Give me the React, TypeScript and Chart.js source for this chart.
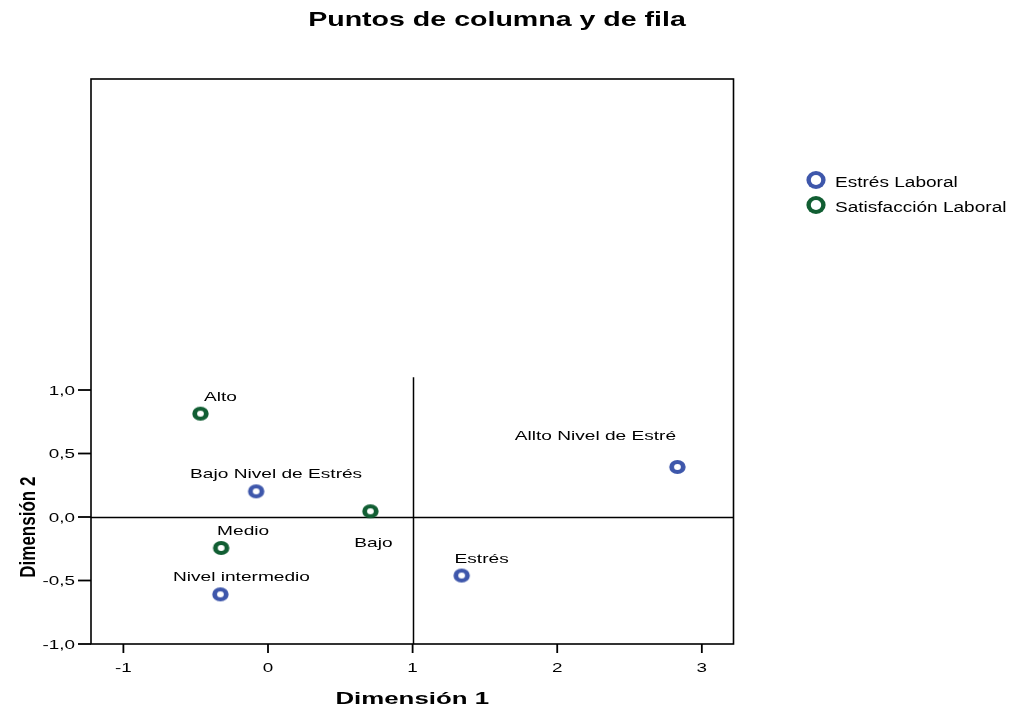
import { useEffect, useRef } from "react";
import { Chart, registerables } from "chart.js";

Chart.register(...registerables);

// ---------- data ----------
const chartTitle = "Puntos de columna y de fila";
const xTitle = "Dimensión 1";
const yTitle = "Dimensión 2";
const seriesNames = ["Estrés Laboral", "Satisfacción Laboral"];

const estresLabels = ["Bajo Nivel de Estrés", "Nivel intermedio", "Estrés", "Allto Nivel de Estré"];
const estresDim1 = [-0.082, -0.329, 1.339, 2.831];
const estresDim2 = [0.202, -0.609, -0.461, 0.394];

const satisLabels = ["Alto", "Medio", "Bajo"];
const satisDim1 = [-0.467, -0.324, 0.708];
const satisDim2 = [0.814, -0.244, 0.045];

const xTicks = [-1, 0, 1, 2, 3];
const yTicks = [-1, -0.5, 0, 0.5, 1];
const xRange = [-1.224, 3.219];
const yRange = [-1, 3.449];
const refX = 1;
const refXTop = 1.1;
const refY = 0;

// ---------- styles ----------
const BLUE = "#3e57ab";
const GREEN = "#115e33";
const estresLabelOffsets = [[20, -17], [21, -17], [20, -16], [-82, -31]];
const satisLabelOffsets = [[20, -16], [22, -17], [3, 32]];
const FONT = "'Liberation Sans', Arial, sans-serif";

function ring(color: string, rx: number, ry: number, irx: number, iry: number) {
  const c = document.createElement("canvas");
  c.width = Math.ceil(rx * 2) + 2;
  c.height = Math.ceil(ry * 2) + 2;
  const g = c.getContext("2d")!;
  g.fillStyle = color;
  g.beginPath();
  g.ellipse(c.width / 2, c.height / 2, rx, ry, 0, 0, Math.PI * 2);
  g.fill();
  g.fillStyle = "#ffffff";
  g.beginPath();
  g.ellipse(c.width / 2, c.height / 2, irx, iry, 0, 0, Math.PI * 2);
  g.fill();
  return c;
}

function sText(
  ctx: CanvasRenderingContext2D,
  text: string,
  x: number,
  y: number,
  font: string,
  sx: number,
  align: "left" | "center" | "right",
  baseline: CanvasTextBaseline,
  color = "#000"
) {
  ctx.save();
  ctx.font = font;
  ctx.fillStyle = color;
  ctx.textBaseline = baseline;
  ctx.textAlign = "left";
  const w = ctx.measureText(text).width * sx;
  const left = align === "center" ? x - w / 2 : align === "right" ? x - w : x;
  ctx.translate(left, y);
  ctx.scale(sx, 1);
  ctx.fillText(text, 0, 0);
  ctx.restore();
}

const fmt = (v: number) => v.toFixed(1).replace(".", ",");

export default function App() {
  const ref = useRef<HTMLCanvasElement | null>(null);

  useEffect(() => {
    document.body.style.margin = "0";
    const canvas = ref.current!;
    const blueRing = ring(BLUE, 8.2, 7, 3.4, 2.9);
    const greenRing = ring(GREEN, 8.2, 7, 3.4, 2.9);
    const blueLegend = ring(BLUE, 9.6, 9, 5.2, 4.9);
    const greenLegend = ring(GREEN, 9.6, 9, 5.2, 4.9);
    const labelSets = [
      { labels: estresLabels, offsets: estresLabelOffsets },
      { labels: satisLabels, offsets: satisLabelOffsets },
    ];

    const decor = {
      id: "decor",
      beforeDatasetsDraw(chart: any) {
        const ctx: CanvasRenderingContext2D = chart.ctx;
        const { left, right, top, bottom } = chart.chartArea;
        const xs = chart.scales.x;
        const ys = chart.scales.y;
        ctx.save();
        ctx.strokeStyle = "#000";
        // reference lines
        ctx.lineWidth = 1.5;
        const y0 = Math.round(ys.getPixelForValue(refY)) + 0.5;
        ctx.beginPath();
        ctx.moveTo(left, y0);
        ctx.lineTo(right, y0);
        ctx.stroke();
        const x1 = Math.round(xs.getPixelForValue(refX)) + 0.5;
        ctx.beginPath();
        ctx.moveTo(x1, ys.getPixelForValue(refXTop));
        ctx.lineTo(x1, bottom);
        ctx.stroke();
        // frame
        ctx.lineWidth = 1.6;
        ctx.strokeRect(left, top, right - left, bottom - top);
        // ticks
        ctx.lineWidth = 1.8;
        yTicks.forEach((v) => {
          const py = ys.getPixelForValue(v);
          ctx.beginPath();
          ctx.moveTo(left - 13, py);
          ctx.lineTo(left, py);
          ctx.stroke();
          sText(ctx, fmt(v), left - 16, py + 1, `13px ${FONT}`, 1.45, "right", "middle");
        });
        xTicks.forEach((v) => {
          const px = xs.getPixelForValue(v);
          ctx.beginPath();
          ctx.moveTo(px, bottom);
          ctx.lineTo(px, bottom + 9);
          ctx.stroke();
          sText(ctx, String(v), px, 672, `13px ${FONT}`, 1.45, "center", "alphabetic");
        });
        ctx.restore();

        // titles
        sText(ctx, chartTitle, 497, 26, `bold 21px ${FONT}`, 1.36, "center", "alphabetic");
        sText(ctx, xTitle, (left + right) / 2, 704, `bold 17px ${FONT}`, 1.52, "center", "alphabetic");
        ctx.save();
        ctx.translate(35, ys.getPixelForValue(-0.08));
        ctx.rotate(-Math.PI / 2);
        ctx.scale(1.0, 1.35);
        ctx.font = `bold 17px ${FONT}`;
        ctx.fillStyle = "#000";
        ctx.textAlign = "center";
        ctx.textBaseline = "alphabetic";
        ctx.fillText(yTitle, 0, 0);
        ctx.restore();

        // legend
        const legendRings = [blueLegend, greenLegend];
        chart.data.datasets.forEach((ds: any, i: number) => {
          const cy = 180 + i * 25;
          const r = legendRings[i];
          ctx.drawImage(r, 816 - r.width / 2, cy - r.height / 2);
          sText(ctx, ds.label, 835, cy + 7.3, `14px ${FONT}`, 1.36, "left", "alphabetic");
        });
      },
      afterDatasetsDraw(chart: any) {
        const ctx: CanvasRenderingContext2D = chart.ctx;
        labelSets.forEach((set, di) => {
          const meta = chart.getDatasetMeta(di);
          meta.data.forEach((pt: any, i: number) => {
            const [dx, dy] = set.offsets[i];
            sText(ctx, set.labels[i], pt.x + dx, pt.y + dy, `13px ${FONT}`, 1.47, "center", "middle", "#000");
          });
        });
      },
    };

    const chart = new Chart(canvas, {
      type: "scatter",
      data: {
        datasets: [
          {
            label: seriesNames[0],
            data: estresDim1.map((x, i) => ({ x, y: estresDim2[i] })),
            pointStyle: blueRing as any,
            pointRadius: 8,
            backgroundColor: BLUE,
            borderColor: BLUE,
          },
          {
            label: seriesNames[1],
            data: satisDim1.map((x, i) => ({ x, y: satisDim2[i] })),
            pointStyle: greenRing as any,
            pointRadius: 8,
            backgroundColor: GREEN,
            borderColor: GREEN,
          },
        ],
      },
      options: {
        responsive: false,
        animation: false,
        devicePixelRatio: 1,
        events: [],
        layout: { padding: { left: 91, top: 79, right: 280.5, bottom: 65 } },
        scales: {
          x: { type: "linear", min: xRange[0], max: xRange[1], display: false },
          y: { type: "linear", min: yRange[0], max: yRange[1], display: false },
        },
        plugins: {
          legend: { display: false },
          tooltip: { enabled: false },
          title: { display: false },
        },
      },
      plugins: [decor],
    });
    return () => chart.destroy();
  }, []);

  return (
    <div style={{ width: 1014, height: 709, background: "#fff" }}>
      <canvas ref={ref} width={1014} height={709} style={{ display: "block" }} />
    </div>
  );
}
